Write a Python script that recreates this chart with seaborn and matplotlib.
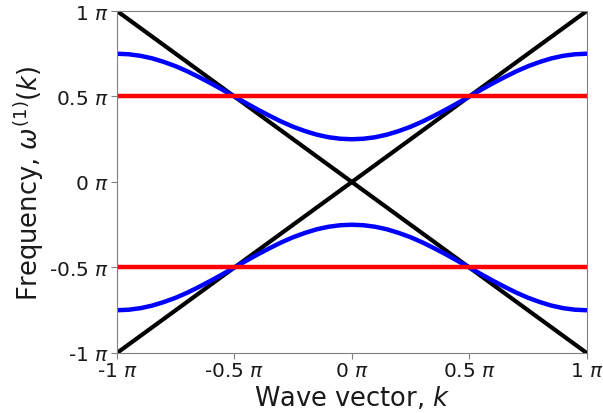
import matplotlib
matplotlib.use("Agg")
import matplotlib.pyplot as plt
import seaborn as sns
import pandas as pd

# Wave vector samples (units of pi)
k_values = [-1.0, -0.95, -0.9, -0.85, -0.8, -0.75, -0.7, -0.65, -0.6, -0.55, -0.5,
            -0.45, -0.4, -0.35, -0.3, -0.25, -0.2, -0.15, -0.1, -0.05, 0.0,
            0.05, 0.1, 0.15, 0.2, 0.25, 0.3, 0.35, 0.4, 0.45, 0.5,
            0.55, 0.6, 0.65, 0.7, 0.75, 0.8, 0.85, 0.9, 0.95, 1.0]
# Upper blue band (units of pi)
blue_upper = [0.75, 0.747, 0.738, 0.723, 0.702, 0.677, 0.647, 0.613, 0.577, 0.539, 0.5,
              0.461, 0.423, 0.387, 0.353, 0.323, 0.298, 0.277, 0.262, 0.253, 0.25,
              0.253, 0.262, 0.277, 0.298, 0.323, 0.353, 0.387, 0.423, 0.461, 0.5,
              0.539, 0.577, 0.613, 0.647, 0.677, 0.702, 0.723, 0.738, 0.747, 0.75]
# Lower blue band
blue_lower = [-0.75, -0.747, -0.738, -0.723, -0.702, -0.677, -0.647, -0.613, -0.577, -0.539, -0.5,
              -0.461, -0.423, -0.387, -0.353, -0.323, -0.298, -0.277, -0.262, -0.253, -0.25,
              -0.253, -0.262, -0.277, -0.298, -0.323, -0.353, -0.387, -0.423, -0.461, -0.5,
              -0.539, -0.577, -0.613, -0.647, -0.677, -0.702, -0.723, -0.738, -0.747, -0.75]
# Black straight lines
black_k = [-1.0, 1.0]
black_up = [-1.0, 1.0]
black_down = [1.0, -1.0]
# Red flat bands
red_k = [-1.0, 1.0]
red_upper = [0.5, 0.5]
red_lower = [-0.5, -0.5]

tick_values = [-1, -0.5, 0, 0.5, 1]
tick_labels = [f"{v:g} $\\pi$" for v in tick_values]

sns.set_style("white")
plt.rcParams["font.family"] = ["DejaVu Sans"]

fig = plt.figure(figsize=(6.03, 4.14), dpi=100)
ax = fig.add_axes([0.194, 0.145, 0.779, 0.826])

df_black = pd.DataFrame({"k": black_k * 2,
                         "w": black_up + black_down,
                         "s": ["a"] * 2 + ["b"] * 2})
df_blue = pd.DataFrame({"k": k_values * 2,
                        "w": blue_upper + blue_lower,
                        "s": ["u"] * len(k_values) + ["l"] * len(k_values)})
df_red = pd.DataFrame({"k": red_k * 2,
                       "w": red_upper + red_lower,
                       "s": ["u"] * 2 + ["l"] * 2})

sns.lineplot(data=df_black, x="k", y="w", units="s", estimator=None,
             color="black", linewidth=3.0, ax=ax, sort=False)
sns.lineplot(data=df_blue, x="k", y="w", units="s", estimator=None,
             color="blue", linewidth=3.2, ax=ax, sort=False)
sns.lineplot(data=df_red, x="k", y="w", units="s", estimator=None,
             color="red", linewidth=3.2, ax=ax, sort=False)

ax.set_xlim(-1, 1)
ax.set_ylim(-1, 1)
ax.set_xticks(tick_values)
ax.set_xticklabels(tick_labels)
ax.set_yticks(tick_values)
ax.set_yticklabels(tick_labels)
ax.tick_params(axis="both", which="major", labelsize=14.5, length=4, width=0.8,
               color="#808080", labelcolor="#1a1a1a", direction="out",
               bottom=True, left=True, pad=2)
for sp in ax.spines.values():
    sp.set_color("#808080")
    sp.set_linewidth(0.8)
ax.set_xlabel("Wave vector, $k$", fontsize=18.5, color="#1a1a1a", labelpad=3)
ax.set_ylabel("Frequency, $\\omega^{(1)}(k)$", fontsize=18.5, color="#1a1a1a", labelpad=2)

fig.savefig("out.png", dpi=100)
